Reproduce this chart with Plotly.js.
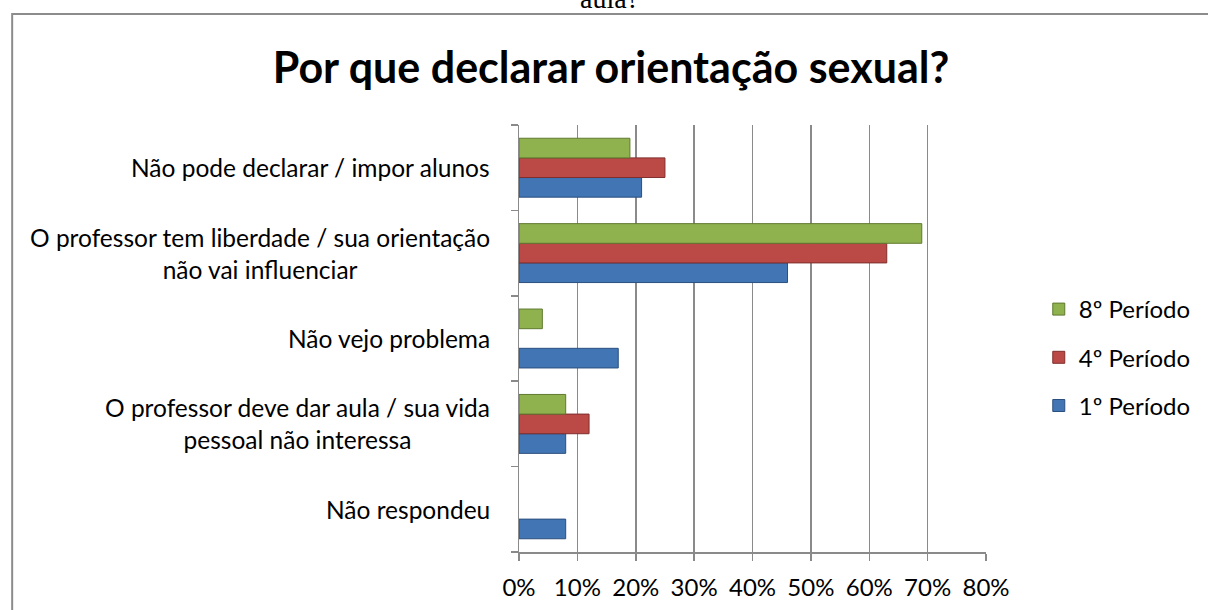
<!DOCTYPE html>
<html>
<head>
<meta charset="utf-8">
<script src="https://cdn.plot.ly/plotly-3.0.1.min.js"></script>
<style>html,body{margin:0;padding:0;background:#fff;}#chart{width:1208px;height:610px;}</style>
</head>
<body>
<div id="chart"></div>
<script>
// Categories, top to bottom as shown
const categories = [
  "Não pode declarar / impor alunos",
  "O professor tem liberdade / sua orientação\nnão vai influenciar",
  "Não vejo problema",
  "O professor deve dar aula / sua vida\npessoal não interessa",
  "Não respondeu"
];
const seriesNames = ["1º Período", "4º Período", "8º Período"];
const periodo1 = [0.21, 0.46, 0.17, 0.08, 0.08];
const periodo4 = [0.25, 0.63, 0, 0.12, 0];
const periodo8 = [0.19, 0.69, 0.04, 0.08, 0];
const xTickVals = [0, 0.1, 0.2, 0.3, 0.4, 0.5, 0.6, 0.7, 0.8];
const xTickText = ["0%", "10%", "20%", "30%", "40%", "50%", "60%", "70%", "80%"];
const chartTitle = "Por que declarar orientação sexual?";
const topCutText = "aula?";

const fillColors = ["#4275b4", "#bb4a47", "#8fb24e"];
const lineColors = ["#2b4f7e", "#7f2f2d", "#5f7a2f"];

const keys = categories.map((c, i) => "c" + i);
const seriesVals = [periodo1, periodo4, periodo8];

const traces = seriesVals.map((vals, s) => ({
  type: "bar",
  orientation: "h",
  name: seriesNames[s],
  legendgroup: "g" + s,
  legendrank: 3 - s,
  y: keys,
  x: vals.map(v => v === 0 ? null : v),
  marker: {color: fillColors[s], line: {color: lineColors[s], width: 1}},
  hoverinfo: "x+name"
}));

const FONT = "Lato, 'Open Sans', sans-serif";
const annotations = [];
categories.forEach((c, i) => {
  const lines = c.split("\n");
  annotations.push({
    xref: "paper", yref: "y", x: -0.057, y: keys[i],
    xanchor: "right", yanchor: "middle", align: "center",
    text: lines.join("<br>"), showarrow: false,
    font: {family: FONT, size: 24.5, color: "#000"}
  });
});
annotations.push({
  xref: "paper", yref: "paper", x: (610 - 519) / 469, y: (552 - 16) / 427,
  xanchor: "center", yanchor: "bottom", text: topCutText, showarrow: false,
  font: {family: "'Liberation Serif', serif", size: 28, color: "#000"}
});

const layout = {
  width: 1208, height: 610,
  margin: {l: 519, r: 220, t: 125, b: 58},
  paper_bgcolor: "#fff", plot_bgcolor: "#fff",
  font: {family: FONT, color: "#000"},
  title: {
    text: "<b>" + chartTitle + "</b>",
    xref: "container", yref: "container", x: 611 / 1208, y: 1 - 68 / 610,
    xanchor: "center", yanchor: "middle",
    font: {family: FONT, size: 43, color: "#000"}
  },
  barmode: "group", bargap: 0.31, bargroupgap: 0,
  xaxis: {
    range: [0, 0.8], tickvals: xTickVals, ticktext: xTickText,
    showgrid: true, gridcolor: "#8a8a8a", gridwidth: 1.5,
    showline: true, linecolor: "#8a8a8a", linewidth: 1.5,
    ticks: "outside", ticklen: 7, tickcolor: "#8a8a8a", tickwidth: 1.5,
    ticklabelstandoff: 7,
    tickfont: {family: FONT, size: 24, color: "#000"},
    zeroline: false, fixedrange: true
  },
  yaxis: {
    type: "category", categoryorder: "array", categoryarray: keys.slice().reverse(),
    showticklabels: false, showgrid: false,
    showline: true, linecolor: "#8a8a8a", linewidth: 1.5,
    ticks: "outside", ticklen: 7, tickcolor: "#8a8a8a", tickwidth: 1.5,
    tickson: "boundaries", zeroline: false, fixedrange: true
  },
  legend: {
    x: (1041 - 519) / 469, y: (552 - 287) / 427, xanchor: "left", yanchor: "top",
    traceorder: "grouped", tracegroupgap: 14,
    font: {family: FONT, size: 24, color: "#000"},
    bgcolor: "rgba(0,0,0,0)"
  },
  annotations: annotations,
  shapes: [{
    type: "rect", xref: "paper", yref: "paper",
    x0: (10 - 519) / 469, x1: (1212 - 519) / 469,
    y0: (552 - 614) / 427, y1: (552 - 14) / 427,
    line: {color: "#8c8c8c", width: 2}, fillcolor: "rgba(0,0,0,0)", layer: "below"
  }]
};

Plotly.newPlot("chart", traces, layout, {displayModeBar: false, staticPlot: true});
</script>
</body>
</html>
